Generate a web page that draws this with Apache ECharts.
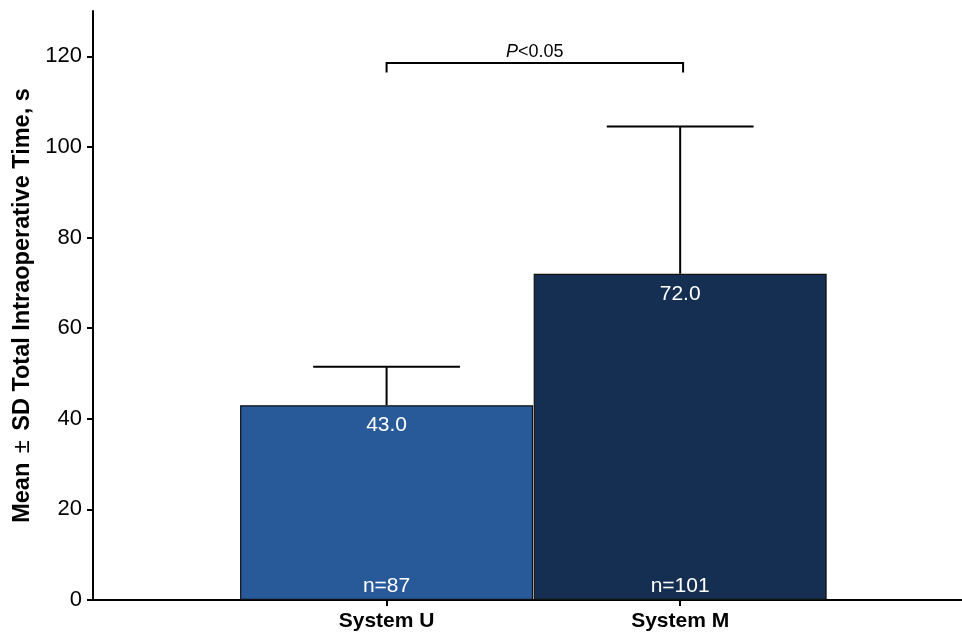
<!DOCTYPE html>
<html>
<head>
<meta charset="utf-8">
<script src="https://cdn.jsdelivr.net/npm/echarts@6/dist/echarts.min.js"></script>
<style>
    html, body { margin: 0; padding: 0; background: #fff; }
    #chart { width: 962px; height: 635px; }
</style>
</head>
<body>
<div id="chart"></div>
<script>
// data
const systems = ['System U', 'System M'];
const positions = [1, 2];
const means = [43.0, 72.0];
const sds = [8.5, 32.5];
const counts = [87, 101];
const barColors = ['#285a9a', '#152f52'];
const yTicks = [0, 20, 40, 60, 80, 100, 120];
// significance bracket: from x, to x, top y, tick bottom y
const bracket = [1, 2.01, 118.5, 116.4];
const pText = '<0.05';

window.onload = initChart;

function initChart() {
    const chart = echarts.init(document.getElementById('chart'));
    const font = 'Liberation Sans, Arial, sans-serif';

    const barData = means.map(function (m, i) {
        return {
            value: [positions[i], m],
            itemStyle: { color: barColors[i] }
        };
    });
    const errData = means.map(function (m, i) {
        return [positions[i], m, sds[i]];
    });
    const nData = counts.map(function (n, i) {
        return [positions[i], 0, n];
    });

    const option = {
        animation: false,
        grid: { left: 93, right: 0, top: 11, bottom: 35 },
        xAxis: {
            type: 'value',
            min: 0,
            max: 2.96,
            splitLine: { show: false },
            axisLine: { lineStyle: { color: '#000', width: 2 } },
            axisTick: { show: true, length: 6, lineStyle: { color: '#000', width: 2 }, customValues: positions },
            axisLabel: {
                customValues: positions,
                formatter: function (v) {
                    const i = positions.indexOf(v);
                    return i >= 0 ? systems[i] : '';
                },
                color: '#000',
                fontFamily: font,
                fontWeight: 'bold',
                fontSize: 21,
                margin: 11
            }
        },
        yAxis: {
            type: 'value',
            min: 0,
            max: 130,
            splitLine: { show: false },
            axisLine: { show: true, lineStyle: { color: '#000', width: 2 } },
            axisTick: { show: true, length: 6, lineStyle: { color: '#000', width: 2 }, customValues: yTicks },
            axisLabel: { customValues: yTicks, color: '#000', fontFamily: font, fontSize: 22, margin: 11 },
            name: 'Mean {n|\u00b1} SD Total Intraoperative Time, s',
            nameLocation: 'middle',
            nameGap: 53,
            nameTextStyle: {
                color: '#000',
                fontFamily: font,
                fontWeight: 'bold',
                fontSize: 23.5,
                rich: { n: { fontWeight: 'normal', fontSize: 23.5, fontFamily: font, color: '#000', padding: [0, 3] } }
            }
        },
        series: [
            {
                // error bars (upper only, behind bars)
                type: 'custom',
                z: 1,
                data: errData,
                renderItem: function (params, api) {
                    const x = api.value(0);
                    const m = api.value(1);
                    const top = m + api.value(2);
                    const p0 = api.coord([x, m]);
                    const p1 = api.coord([x, top]);
                    const cl = api.coord([x - 0.25, top]);
                    const cr = api.coord([x + 0.25, top]);
                    const st = { stroke: '#000', lineWidth: 2 };
                    return {
                        type: 'group',
                        children: [
                            { type: 'line', shape: { x1: p0[0], y1: p0[1], x2: p1[0], y2: p1[1] }, style: st },
                            { type: 'line', shape: { x1: cl[0], y1: cl[1], x2: cr[0], y2: cr[1] }, style: st }
                        ]
                    };
                }
            },
            {
                type: 'bar',
                z: 2,
                barWidth: 293,
                data: barData,
                itemStyle: { borderColor: '#111', borderWidth: 1.2 },
                label: {
                    show: true,
                    position: 'insideTop',
                    distance: 10,
                    color: '#fff',
                    fontFamily: font,
                    fontSize: 21,
                    formatter: function (p) { return p.value[1].toFixed(1); }
                }
            },
            {
                // sample size labels
                type: 'custom',
                z: 3,
                data: nData,
                renderItem: function (params, api) {
                    const p = api.coord([api.value(0), api.value(1)]);
                    return {
                        type: 'text',
                        x: p[0],
                        y: p[1] - 3,
                        style: {
                            text: 'n=' + api.value(2),
                            fill: '#fff',
                            font: '21px ' + font,
                            align: 'center',
                            verticalAlign: 'bottom'
                        }
                    };
                }
            },
            {
                // significance bracket
                type: 'custom',
                z: 3,
                data: [bracket],
                renderItem: function (params, api) {
                    const a = api.coord([api.value(0), api.value(2)]);
                    const b = api.coord([api.value(1), api.value(2)]);
                    const aBot = api.coord([api.value(0), api.value(3)]);
                    const bBot = api.coord([api.value(1), api.value(3)]);
                    const st = { stroke: '#000', lineWidth: 2, fill: null };
                    return {
                        type: 'group',
                        children: [
                            {
                                type: 'polyline',
                                shape: { points: [aBot, a, b, bBot] },
                                style: st
                            },
                            {
                                type: 'text',
                                x: (a[0] + b[0]) / 2,
                                y: a[1] - 2,
                                style: {
                                    text: '{i|P}{r|' + pText + '}',
                                    align: 'center',
                                    verticalAlign: 'bottom',
                                    rich: {
                                        i: { fontStyle: 'italic', fontSize: 18, fontFamily: font, fill: '#000' },
                                        r: { fontSize: 18, fontFamily: font, fill: '#000' }
                                    }
                                }
                            }
                        ]
                    };
                }
            }
        ]
    };
    chart.setOption(option);
}
</script>
</body>
</html>
